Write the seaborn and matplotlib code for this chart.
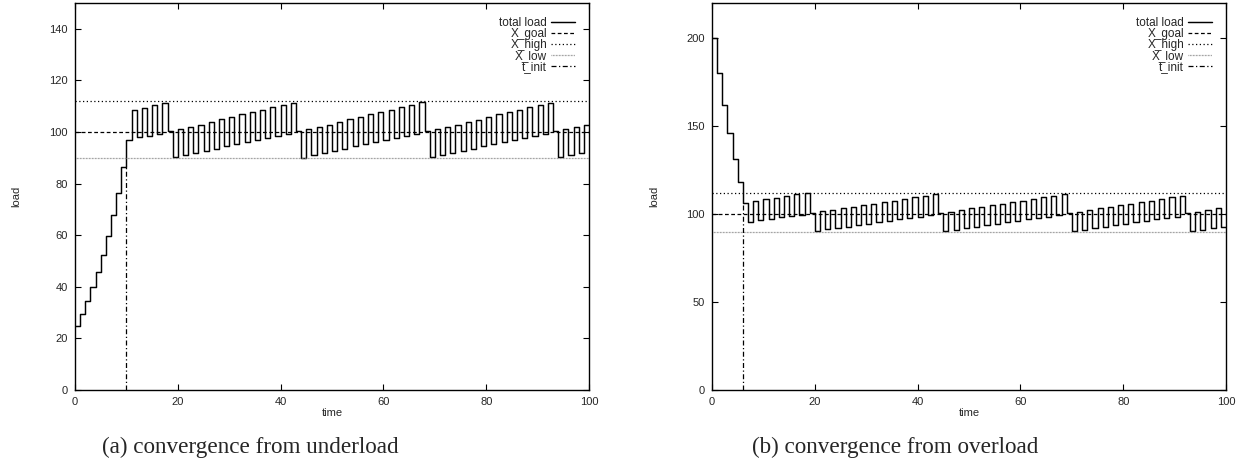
import numpy as np
import matplotlib
matplotlib.use("Agg")
import matplotlib.pyplot as plt
import seaborn as sns

# total load per time step
load_under = [25.0, 29.5, 34.4, 39.8, 45.9, 52.3, 59.7, 67.7, 76.5, 86.3,
              96.8, 108.4, 98.0, 109.4, 98.5, 110.4, 99.1, 111.3, 100.4, 90.2,
              101.0, 91.0, 101.9, 91.7, 102.8, 92.6, 103.8, 93.5, 104.9, 94.4,
              105.9, 95.2, 106.8, 96.0, 107.7, 96.9, 108.6, 97.7, 109.5, 98.5,
              110.5, 99.3, 111.4, 100.4, 90.1, 101.1, 91.1, 102.0, 91.8, 102.9,
              92.7, 103.9, 93.6, 104.9, 94.4, 105.8, 95.3, 106.8, 96.1, 107.8,
              96.9, 108.7, 97.8, 109.6, 98.6, 110.5, 99.3, 111.5, 100.4, 90.2,
              101.0, 91.1, 101.9, 91.8, 102.9, 92.6, 103.9, 93.5, 104.8, 94.4,
              105.8, 95.2, 106.8, 96.0, 107.7, 96.8, 108.6, 97.7, 109.6, 98.5,
              110.5, 99.3, 111.4, 100.4, 90.2, 101.0, 91.0, 101.9, 91.7, 102.8]

load_over = [200.0, 180.0, 162.0, 146.0, 131.2, 118.1, 106.2, 95.7, 107.3, 96.6,
             108.4, 97.3, 109.4, 98.2, 110.4, 98.9, 111.2, 99.6, 112.0, 100.4,
             90.3, 101.5, 91.3, 102.3, 92.0, 103.2, 92.9, 104.1, 93.7, 105.0,
             94.5, 105.9, 95.4, 106.8, 96.2, 107.7, 97.0, 108.6, 97.8, 109.6,
             98.6, 110.5, 99.3, 111.5, 100.4, 90.3, 101.4, 91.2, 102.3, 92.0,
             103.2, 92.9, 104.1, 93.7, 105.0, 94.5, 105.9, 95.4, 106.8, 96.2,
             107.7, 97.0, 108.6, 97.8, 109.6, 98.6, 110.5, 99.3, 111.5, 100.4,
             90.3, 101.4, 91.2, 102.3, 92.0, 103.2, 92.9, 104.1, 93.7, 105.0,
             94.5, 105.9, 95.4, 106.8, 96.2, 107.7, 97.0, 108.6, 97.8, 109.6,
             98.6, 110.5, 100.4, 90.3, 101.4, 91.2, 102.3, 92.0, 103.2, 92.9]

x_goal = 100
x_high = 112
x_low = 90
t_init = [10, 6]
t_init_top = [86.3, 106.2]
y_max = [150, 220]
y_step = [20, 50]
captions = ["(a) convergence from underload", "(b) convergence from overload"]

sns.set_style("ticks")
plt.rcParams['font.family'] = ['Liberation Sans', 'DejaVu Sans']

fig = plt.figure(figsize=(12.47, 4.67), dpi=100)
W, H = 1247, 467
boxes = [(75, 589), (712, 1226)]
axes = [fig.add_axes([l / W, (H - 390) / H, (r - l) / W, 387 / H]) for l, r in boxes]

for i, (ax, load) in enumerate(zip(axes, [load_under, load_over])):
    t = np.arange(len(load) + 1)
    y = load + [load[-1]]
    sns.lineplot(x=t, y=y, drawstyle='steps-post', color='black', lw=1.05,
                 ax=ax, label='total load')
    ax.axhline(x_goal, color='black', lw=0.9, dashes=(3, 2), label='X_goal')
    ax.axhline(x_high, color='black', lw=0.9, dashes=(1, 2), label='X_high')
    ax.axhline(x_low, color='#888888', lw=0.9, dashes=(0.6, 0.6), label='X_low')
    ax.vlines(t_init[i], 0, t_init_top[i], color='black', lw=0.9,
              linestyles=[(0, (4, 2, 1, 2))], label='t_init')
    ax.set_xlim(0, 100)
    ax.set_ylim(0, y_max[i])
    ax.set_xticks(range(0, 101, 20))
    ax.set_yticks(range(0, y_max[i] + 1, y_step[i]))
    ax.tick_params(direction='in', length=4, width=0.8, top=True, right=True,
                   labelsize=8, pad=5, color='black')
    for s in ax.spines.values():
        s.set_color('black')
        s.set_linewidth(1.0)
    ax.set_xlabel('time', fontsize=8, labelpad=1)
    ax.set_ylabel('load', fontsize=8, labelpad=20)
    ax.legend(loc='upper right', markerfirst=False, frameon=False, fontsize=8.5,
              labelspacing=-0.08, handlelength=2.0, handletextpad=0.35,
              borderaxespad=0.9, borderpad=0.3)
    cx = [250, 895][i]
    fig.text(cx / W, 1 - 447 / H, captions[i], ha='center', va='center',
             fontsize=16.7, family='Liberation Serif')

fig.savefig('out.png', dpi=100)
